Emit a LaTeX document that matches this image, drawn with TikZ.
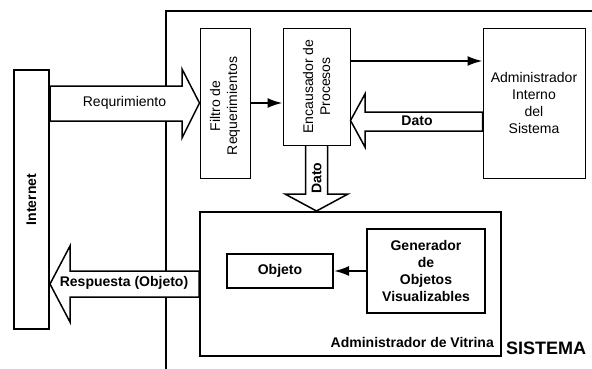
\documentclass[tikz,border=0pt]{standalone}
\usepackage{fontspec}
\setmainfont{Liberation Sans}
\usetikzlibrary{arrows.meta,backgrounds}
\begin{document}
\begin{tikzpicture}[x=1pt, y=1pt,
        font=\fontsize{14}{17}\selectfont,
        caja/.style={draw, line width=1pt, inner sep=0pt},
        cajagruesa/.style={draw, line width=2pt, align=center, inner sep=0pt, font=\fontsize{14}{17}\selectfont\bfseries},
        flecha/.style={draw, line width=1.5pt, fill=white, line join=miter},
        conector/.style={line width=2pt, -{Latex[length=15pt,width=10pt]}},
        texto/.style={align=center, inner sep=0pt},
        negrita/.style={align=center, inner sep=0pt, font=\fontsize{14}{17}\selectfont\bfseries}]
        \useasboundingbox (0,0) rectangle (592,368);
        \node[cajagruesa, minimum width=35pt, minimum height=259pt] (inet) at (31.5,168.5) {};
        \node[negrita, rotate=90] (tinet) at (inet) {Internet};
        \node[caja, minimum width=50pt, minimum height=150pt] (filtro) at (225,265) {};
        \node[texto, rotate=90] (tfiltro) at (225,262) {Filtro de\\Requerimientos};
        \node[caja, minimum width=67pt, minimum height=117pt] (encaus) at (316.5,281.5) {};
        \node[texto, rotate=90] (tencaus) at (encaus) {Encausador de\\Procesos};
        \node[caja, minimum width=102pt, minimum height=150pt, align=center] (admin) at (534,265) {Administrador\\Interno\\del\\Sistema};
        \node[cajagruesa, minimum width=301pt, minimum height=144pt] (vitrina) at (350.5,84) {};
        \node[negrita, anchor=south east] (tvitrina) at ([xshift=-8pt,yshift=9pt]vitrina.south east) {Administrador de Vitrina};
        \node[cajagruesa, minimum width=106pt, minimum height=34pt] (objeto) at (280,97) {Objeto};
        \node[cajagruesa, minimum width=118pt, minimum height=84pt] (gen) at (426,97) {Generador\\de\\Objetos\\Visualizables};
        \node[negrita, font=\fontsize{18}{21}\selectfont\bfseries] (sistema) at (546,20) {SISTEMA};
        \draw[conector] (filtro.east) -- (filtro.east -| encaus.west);
        \draw[conector] (encaus.east |- 0,307) -- (admin.west |- 0,307);
        \draw[conector] (gen.west) -- (objeto.east);
        \begin{scope}[on background layer]
            \draw[line width=2pt] (166,-5) -- (166,357) -- (600,357);
            \draw[flecha] (inet.east |- 0,282) -- (182,282) -- (182,299) -- (filtro.west) -- (182,230) -- (182,247) -- (inet.east |- 0,247) -- cycle;
            \draw[flecha] (admin.west |- 0,256) -- (365,256) -- (365,274) -- (encaus.east |- 0,247.5) -- (365,221) -- (365,237) -- (admin.west |- 0,237) -- cycle;
            \draw[flecha] ([xshift=-11pt]encaus.south) -- (305.5,174) -- (285,174) -- (vitrina.north -| encaus.south) -- (348,174) -- (327.5,174) -- ([xshift=11pt]encaus.south);
            \draw[flecha] (vitrina.west |- 0,97) -- (70,97) -- (70,122) -- (inet.east |- vitrina.west) -- (70,46) -- (70,71) -- (vitrina.west |- 0,71) -- cycle;
        \end{scope}
        \node[texto] (treq) at (124.5,265) {Requrimiento};
        \node[negrita] (tdato) at (417,247) {Dato};
        \node[negrita, rotate=90] (tdato2) at (316.5,190) {Dato};
        \node[negrita] (tresp) at (124,85) {Respuesta (Objeto)};
    \end{tikzpicture}
\end{document}
